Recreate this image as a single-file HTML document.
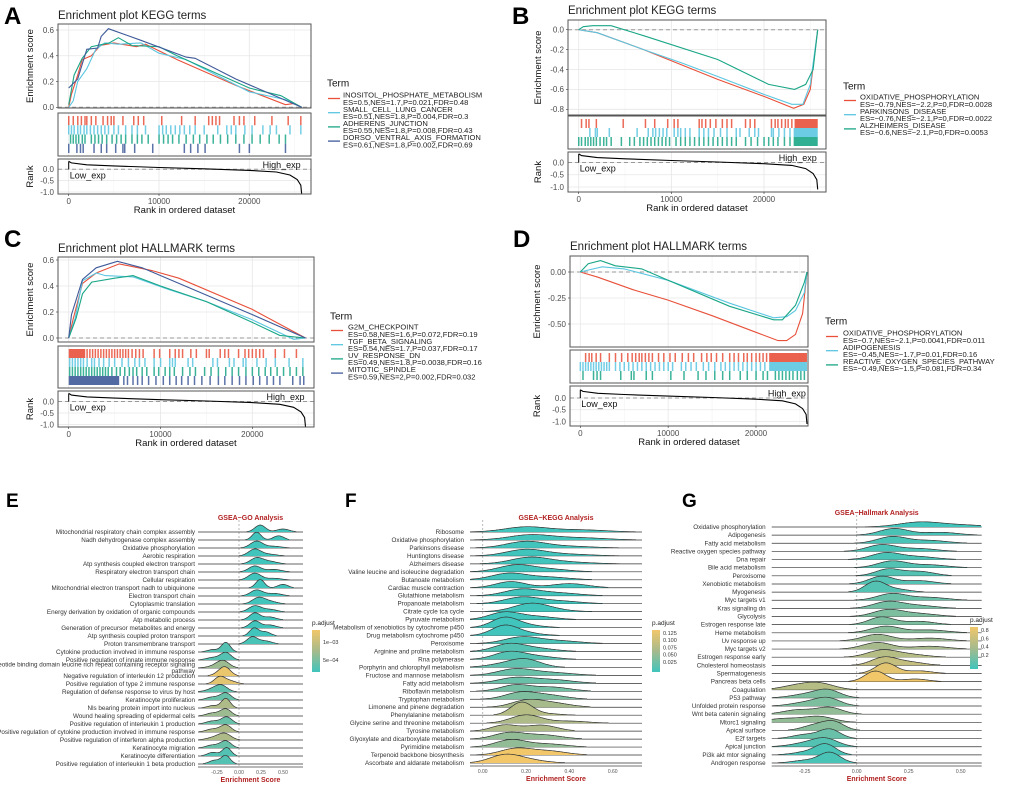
<!DOCTYPE html>
<html><head><meta charset="utf-8"><style>
html,body{margin:0;padding:0;background:#fff;}
svg{display:block;font-family:"Liberation Sans",Arial,sans-serif;}
</style></head><body>
<svg id="fig" width="1020" height="786" viewBox="0 0 1020 786" xmlns="http://www.w3.org/2000/svg"></svg>
<script>
// ===== GSEA data (rank, ES) =====
const A_names=["INOSITOL_PHOSPHATE_METABOLISM","SMALL_CELL_LUNG_CANCER","ADHERENS_JUNCTION","DORSO_VENTRAL_AXIS_FORMATION"];
const A_stats=["ES=0.5,NES=1.7,P=0.021,FDR=0.48","ES=0.51,NES=1.8,P=0.004,FDR=0.3","ES=0.55,NES=1.8,P=0.008,FDR=0.43","ES=0.61,NES=1.8,P=0.002,FDR=0.69"];
const A_s1=[[0,0],[300,0.1],[1000,0.25],[1500,0.37],[2500,0.4],[3500,0.48],[5000,0.5],[7500,0.47],[8500,0.49],[12000,0.37],[18500,0.17],[24000,0.02],[25000,0.03],[25800,0]];
const A_s2=[[0,0],[500,0.05],[1000,0.2],[2000,0.3],[3000,0.45],[4000,0.5],[5500,0.49],[8000,0.5],[10000,0.42],[13000,0.37],[20000,0.12],[24000,0.06],[25800,0]];
const A_s3=[[0,0.02],[600,0.25],[1500,0.38],[2500,0.47],[4500,0.5],[5500,0.54],[7000,0.48],[10000,0.47],[12000,0.4],[20000,0.15],[23500,0.09],[25800,0]];
const A_s4=[[0,0.15],[1000,0.22],[2000,0.45],[3200,0.46],[3600,0.55],[4400,0.61],[8000,0.52],[13000,0.39],[14000,0.38],[18500,0.22],[25800,0]];
const A_r1=[0,.5,1,1.4,1.8,2,2.5,3,3.8,4.3,4.7,5,6,7.2,7.7,8.3,10.3,12.5,14,15.5,15.9,16.3,16.7,18.3,18.9,19.4,20.6,22.5,24.3,25.7];
const A_r2=[0,.3,.6,1,1.3,1.7,2,2.4,2.8,3.2,3.6,4,4.4,5,5.5,6.3,7,7.6,8.5,10,10.4,10.8,11.3,11.8,12.3,12.8,13.4,14,15,16.5,17.5,18,18.5,19.5,20.3,21.5,22.3,23,24.5,25.7];
const A_r3=[.2,.5,.8,1.1,1.5,1.8,2.5,2.9,3.3,3.7,4.2,4.8,5.3,5.8,6.3,7,7.6,8.1,8.8,10,10.5,11,11.5,12.2,13,13.8,14.5,15.3,16,16.8,17.6,18.5,19.4,20.3,21.2,22.2,23.3,24];
const A_r4=[0,.9,1.3,1.6,2.8,3.6,4.2,5.2,6,6.2,7.3,9.3,12.8,13.5,14.3,15.1,18.9,20,24];

const B_names=["OXIDATIVE_PHOSPHORYLATION","PARKINSONS_DISEASE","ALZHEIMERS_DISEASE"];
const B_stats=["ES=\u22120.79,NES=\u22122.2,P=0,FDR=0.0028","ES=\u22120.76,NES=\u22122.1,P=0,FDR=0.0022","ES=\u22120.6,NES=\u22122.1,P=0,FDR=0.0053"];
const B_s1=[[0,0],[2000,-0.03],[7000,-0.2],[15000,-0.5],[20000,-0.67],[23200,-0.79],[24300,-0.75],[25000,-0.6],[25800,0]];
const B_s2=[[0,0],[2000,-0.03],[7000,-0.2],[11000,-0.33],[15000,-0.47],[20000,-0.65],[23000,-0.75],[24200,-0.75],[25000,-0.55],[25800,0]];
const B_s3=[[0,0],[500,0.03],[1500,0.04],[3500,0.04],[7000,-0.06],[15000,-0.3],[20500,-0.55],[23300,-0.6],[24500,-0.55],[25300,-0.4],[25800,0]];
const B_r1=[.3,.8,1.1,1.9,4.8,7.2,8.2,9.6,10.3,10.7,13,13.3,13.7,14.2,14.8,15.5,16,16.5,18,18.5,19,20.8,21.2,21.5,21.9,22.3,22.6,23];
const B_r2=[1.2,1.8,2,3.3,6.3,7.5,8,8.3,8.7,9.1,9.5,10.3,10.7,11,11.5,12,13,13.5,14,14.6,15.3,16,17,17.4,18.4,19,19.4,20.8,21,21.6,22.2,22.8];
const B_r3=[0,.3,.7,1,1.3,1.6,1.9,2.3,2.7,3,3.5,4.6,5.5,6,6.6,7,7.4,7.8,8.2,8.6,9,9.4,9.8,10.5,11,11.5,12,12.5,13,13.5,14,14.5,15,15.5,16,16.5,17,18,18.6,19.3,20,20.5,21,21.5,22.2,22.8];
const B_b=[[23.3,25.8],[23.2,25.8],[23.2,25.8]];

const C_names=["G2M_CHECKPOINT","TGF_BETA_SIGNALING","UV_RESPONSE_DN","MITOTIC_SPINDLE"];
const C_stats=["ES=0.58,NES=1.6,P=0.072,FDR=0.19","ES=0.54,NES=1.7,P=0.037,FDR=0.17","ES=0.49,NES=1.8,P=0.0038,FDR=0.16","ES=0.59,NES=2,P=0.002,FDR=0.032"];
const C_s1=[[0,0],[500,0.15],[1500,0.42],[3000,0.5],[5500,0.57],[9000,0.52],[12000,0.46],[20000,0.22],[25800,0]];
const C_s2=[[0,0],[700,0.15],[1500,0.44],[3000,0.5],[4000,0.48],[7000,0.47],[11000,0.37],[15000,0.28],[20000,0.14],[24500,-0.01],[25800,0]];
const C_s3=[[0,0],[800,0.15],[1500,0.34],[2500,0.43],[5000,0.46],[7000,0.48],[10000,0.4],[15000,0.28],[20000,0.12],[23000,0.02],[25800,0]];
const C_s4=[[0,0],[300,0.18],[1500,0.45],[3000,0.54],[5300,0.59],[8000,0.54],[12000,0.42],[20000,0.18],[25800,0]];
const C_r1=[2,2.3,2.6,2.9,3.2,3.5,3.8,4.1,4.4,4.7,5,5.3,5.6,5.9,6.2,6.5,6.9,7.3,7.7,8.1,9.3,9.9,11,11.6,12,12.4,13.3,13.9,15,15.3,16.5,17,17.4,18.5,19.2,19.6,20,20.4,20.8,21.2,22.5,23.5,24.8];
const C_r2=[.1,.4,.7,1,1.3,1.6,2,2.5,2.8,3.3,3.8,4.4,5,5.8,6.5,7.2,7.7,8.3,9.3,10,11,11.3,11.6,13,13.5,15.7,16.2,17.5,18,19,19.3,20.5,21.5,22.5,24,25.5];
const C_r3=[.1,.4,.7,1,1.3,1.6,1.9,2.2,2.5,2.8,3.1,3.4,3.7,4,4.3,4.7,5.2,5.6,6.1,6.6,7,7.4,8,8.5,9.3,9.8,10.5,11,11.5,12.4,13.2,13.8,14.8,15.5,16.3,17.1,17.8,18.5,19.3,20,20.7,21.4,22,22.7,23.4,24.1,24.8,25.5];
const C_r4=[6,6.4,7,7.5,8,8.7,9.5,10.3,11,11.7,12.3,13,13.7,14.5,15.4,16.3,17,17.8,18.6,19.3,20.1,20.8,21.6,22.3,23,24.4,25.2,25.6];
const C_b=[[0,1.8],null,null,[0,5.5]];

const D_names=["OXIDATIVE_PHOSPHORYLATION","ADIPOGENESIS","REACTIVE_OXYGEN_SPECIES_PATHWAY"];
const D_stats=["ES=\u22120.7,NES=\u22122.1,P=0.0041,FDR=0.011","ES=\u22120.45,NES=\u22121.7,P=0.01,FDR=0.16","ES=\u22120.49,NES=\u22121.5,P=0.081,FDR=0.34"];
const D_s1=[[0,0],[2000,-0.05],[6000,-0.17],[10000,-0.27],[15000,-0.42],[20000,-0.58],[22500,-0.66],[23500,-0.66],[24500,-0.6],[25300,-0.4],[25800,0]];
const D_s2=[[0,0],[1000,0.02],[2500,0.05],[5000,0.03],[10000,-0.08],[17000,-0.3],[22000,-0.44],[23500,-0.43],[24500,-0.37],[25500,-0.2],[25800,0]];
const D_s3=[[0,0],[900,0.08],[2300,0.11],[4000,0.06],[7000,0.03],[10000,-0.08],[17000,-0.33],[22000,-0.46],[23000,-0.46],[24500,-0.32],[25500,-0.1],[25800,0]];
const D_r1=[.6,1,1.3,1.8,2.3,3.3,4,4.7,5.4,5.9,6.3,6.7,7,7.4,7.8,8.2,8.9,9.5,10.2,10.8,11.6,12.3,12.9,13.8,14.4,14.9,15.5,16.2,17,17.5,18,18.6,19,19.5,20,20.4,20.8,21.2];
const D_r2=[0,.3,.6,.9,1.2,1.5,1.8,2.1,2.4,2.7,3,3.3,4,4.5,5,5.5,6,6.5,7,7.5,8,8.5,9,9.5,10,10.5,11.5,12,12.6,13.2,14,14.6,15.3,16,16.5,17,17.5,18,18.5,19,19.5,20,20.5,21];
const D_r3=[.3,1.5,1.9,2.3,4.6,5.8,6.1,7.5,8.2,10.3,11.8,13.4,14.3,15.3,16.2,17,18.2,19,20,20.8,21.3,22.2,22.6,23,23.4,23.8,24.2,24.7,25.1,25.5];
const D_b=[[21.5,25.8],[21.5,25.8],null];

const RANK_curve=[[0,0.35],[300,0.28],[2000,0.2],[5000,0.15],[10000,0.08],[15000,0.02],[20000,-0.05],[23000,-0.12],[24500,-0.25],[25300,-0.45],[25700,-0.7],[25800,-1.1]];
const X_ticks=[0,10000,20000];
const RANK_ticks=[0.0,-0.5,-1.0];

// ===== Ridge data =====
const E_names=["Mitochondrial respiratory chain complex assembly","Nadh dehydrogenase complex assembly","Oxidative phosphorylation","Aerobic respiration","Atp synthesis coupled electron transport","Respiratory electron transport chain","Cellular respiration","Mitochondrial electron transport nadh to ubiquinone","Electron transport chain","Cytoplasmic translation","Energy derivation by oxidation of organic compounds","Atp metabolic process","Generation of precursor metabolites and energy","Atp synthesis coupled proton transport","Proton transmembrane transport","Cytokine production involved in immune response","Positive regulation of innate immune response","Nucleotide binding domain leucine rich repeat containing receptor signaling|pathway","Negative regulation of interleukin 12 production","Positive regulation of type 2 immune response","Regulation of defense response to virus by host","Keratinocyte proliferation","Nls bearing protein import into nucleus","Wound healing spreading of epidermal cells","Positive regulation of interleukin 1 production","Positive regulation of cytokine production involved in immune response","Positive regulation of interferon alpha production","Keratinocyte migration","Keratinocyte differentiation","Positive regulation of interleukin 1 beta production"];
const E_center=[0.24,0.2,0.2,0.18,0.2,0.18,0.18,0.24,0.2,0.22,0.18,0.18,0.18,0.17,0.15,-0.15,-0.15,-0.18,-0.15,-0.22,-0.2,-0.15,-0.15,-0.15,-0.14,-0.15,-0.16,-0.15,-0.14,-0.15];
const E_sd=[0.06,0.05,0.07,0.07,0.07,0.07,0.07,0.05,0.07,0.07,0.07,0.06,0.06,0.05,0.06,0.05,0.06,0.07,0.06,0.06,0.07,0.06,0.05,0.06,0.06,0.06,0.07,0.06,0.05,0.05];
const E_c2=[0.5,0.45,0.4,0.35,0.35,0.4,0.4,0.5,0.4,0.35,0.35,0.35,0.35,0.3,0.3,-0.3,-0.3,-0.28,-0.2,-0.1,-0.3,-0.3,-0.3,-0.3,-0.3,-0.3,-0.28,-0.3,-0.3,-0.28];
const E_w2=[0.3,0.35,0.2,0.2,0.3,0.3,0.2,0.3,0.3,0.3,0.3,0.3,0.3,0.35,0.3,0.2,0.25,0.2,0.4,0.3,0.3,0.3,0.2,0.3,0.3,0.3,0.3,0.3,0.3,0.3];
const E_padj=[0,0,0,0,0,0,0,0,0,0,0,0,0,0,0.05,0.1,0.1,0.45,0.95,0.9,0.15,0.2,0.55,0.45,0.2,0.55,0.55,0.2,0.1,0.1];
const E_ticks=[-0.25,0,0.25,0.5];
const E_legend=["1e\u221203","5e\u221204"];

const F_names=["Ribosome","Oxidative phosphorylation","Parkinsons disease","Huntingtons disease","Alzheimers disease","Valine leucine and isoleucine degradation","Butanoate metabolism","Cardiac muscle contraction","Glutathione metabolism","Propanoate metabolism","Citrate cycle tca cycle","Pyruvate metabolism","Metabolism of xenobiotics by cytochrome p450","Drug metabolism cytochrome p450","Peroxisome","Arginine and proline metabolism","Rna polymerase","Porphyrin and chlorophyll metabolism","Fructose and mannose metabolism","Fatty acid metabolism","Riboflavin metabolism","Tryptophan metabolism","Limonene and pinene degradation","Phenylalanine metabolism","Glycine serine and threonine metabolism","Tyrosine metabolism","Glyoxylate and dicarboxylate metabolism","Pyrimidine metabolism","Terpenoid backbone biosynthesis","Ascorbate and aldarate metabolism"];
const F_center=[0.2,0.22,0.2,0.2,0.22,0.15,0.12,0.13,0.18,0.18,0.22,0.1,0.1,0.1,0.18,0.12,0.12,0.2,0.15,0.15,0.15,0.17,0.2,0.18,0.2,0.1,0.12,0.13,0.15,0.1];
const F_sd=[0.1,0.1,0.09,0.09,0.09,0.08,0.08,0.07,0.08,0.08,0.08,0.07,0.06,0.06,0.08,0.07,0.07,0.07,0.08,0.08,0.07,0.07,0.07,0.05,0.07,0.06,0.07,0.07,0.07,0.07];
const F_c2=[0.45,0.45,0.4,0.4,0.4,0.3,0.3,0.4,0.35,0.35,0.3,0.25,0.2,0.2,0.35,0.25,0.25,0.1,0.32,0.32,0.32,0.3,0.32,0.3,0.4,0.27,0.28,0.3,0.3,0.2];
const F_w2=[0.3,0.3,0.2,0.2,0.2,0.3,0.3,0.4,0.3,0.3,0.2,0.3,0.2,0.2,0.3,0.3,0.3,0.3,0.3,0.4,0.4,0.4,0.4,0.1,0.2,0.5,0.4,0.3,0.4,0.3];
const F_padj=[0,0,0,0,0,0,0,0,0,0,0,0,0,0,0.05,0.1,0.1,0.15,0.2,0.2,0.25,0.3,0.5,0.6,0.55,0.55,0.4,0.4,1,1];
const F_ticks=[0,0.2,0.4,0.6];
const F_legend=["0.125","0.100","0.075","0.050","0.025"];

const G_names=["Oxidative phosphorylation","Adipogenesis","Fatty acid metabolism","Reactive oxygen species pathway","Dna repair","Bile acid metabolism","Peroxisome","Xenobiotic metabolism","Myogenesis","Myc targets v1","Kras signaling dn","Glycolysis","Estrogen response late","Heme metabolism","Uv response up","Myc targets v2","Estrogen response early","Cholesterol homeostasis","Spermatogenesis","Pancreas beta cells","Coagulation","P53 pathway","Unfolded protein response","Wnt beta catenin signaling","Mtorc1 signaling","Apical surface","E2f targets","Apical junction","Pi3k akt mtor signaling","Androgen response"];
const G_center=[0.3,0.18,0.17,0.12,0.14,0.17,0.15,0.12,0.09,0.17,0.15,0.15,0.12,0.14,0.1,0.1,0.12,0.13,0.14,0.09,-0.17,-0.14,-0.14,-0.13,-0.18,-0.11,-0.13,-0.15,-0.15,-0.13];
const G_sd=[0.1,0.07,0.07,0.07,0.07,0.07,0.06,0.06,0.05,0.07,0.07,0.07,0.06,0.07,0.07,0.07,0.07,0.06,0.05,0.05,0.07,0.06,0.06,0.06,0.07,0.05,0.05,0.06,0.05,0.05];
const G_c2=[0.5,0.4,0.35,0.3,0.3,0.35,0.3,0.3,0.2,0.35,0.3,0.3,0.3,0.35,0.35,0.35,0.25,0.25,0.3,0.28,-0.27,-0.25,-0.25,-0.28,-0.35,-0.2,-0.25,-0.25,-0.25,-0.25];
const G_w2=[0.3,0.3,0.3,0.3,0.3,0.3,0.4,0.3,0.2,0.3,0.3,0.3,0.3,0.3,0.3,0.3,0.3,0.3,0.2,0.2,0.5,0.3,0.3,0.4,0.4,0.4,0.3,0.3,0.2,0.2];
const G_padj=[0,0.05,0.05,0.05,0.05,0.1,0.1,0.1,0.1,0.2,0.25,0.3,0.3,0.35,0.45,0.5,0.6,0.7,0.9,1,0.6,0.3,0.3,0.4,0.4,0.35,0.2,0.1,0.05,0.05];
const G_ticks=[-0.25,0,0.25,0.5];
const G_legend=["0.8","0.6","0.4","0.2"];

const RED="#e8503a",LBLUE="#5bc6e0",TEAL="#1aa687",NAVY="#3f5a9a";
const NS="http://www.w3.org/2000/svg";
const svg=document.getElementById('fig');
function el(tag,attrs,parent,text){const e=document.createElementNS(NS,tag);for(const k in attrs)e.setAttribute(k,attrs[k]);if(text!==undefined)e.textContent=text;(parent||svg).appendChild(e);return e;}
function fmtTick(v){return v.toFixed(1);}

function gsea(cfg,series,rugs,blocks,colors,names,stats){
  const g=el('g',{});
  
  
  const X=r=>cfg.xp[0]+(cfg.xp[1]-cfg.xp[0])*r/20000;
  const Y=v=>cfg.yp[0]+(cfg.yp[1]-cfg.yp[0])*(v-cfg.yv[0])/(cfg.yv[1]-cfg.yv[0]);
  const RY=v=>cfg.rp[0]+(cfg.rp[1]-cfg.rp[0])*(v-0)/(-1);
  const [bx0,bx1]=cfg.box;
  const t=el('text',{x:bx0,y:cfg.titleY,'font-size':11.5,fill:'#222'},g,cfg.title);
  
  const lab=el('text',{x:cfg.letter[0],y:cfg.letter[1],'font-size':24,'font-weight':'bold',fill:'#000'},g,cfg.letterT);
  
  const boxes=[cfg.top,cfg.rug,cfg.rank];
  boxes.forEach((b)=>{el('rect',{x:bx0,y:b[0],width:bx1-bx0,height:b[1]-b[0],fill:'#fff'},g);});
  const gridX=[0,5000,10000,15000,20000,25000];
  boxes.forEach((b)=>{gridX.forEach((r,i)=>{const x=X(r);if(x<bx1)el('line',{x1:x,x2:x,y1:b[0],y2:b[1],stroke:i%2==0?'#e6e6e6':'#f2f2f2','stroke-width':i%2==0?0.8:0.5},g);});});
  cfg.yticks.forEach(v=>{el('line',{x1:bx0,x2:bx1,y1:Y(v),y2:Y(v),stroke:'#e6e6e6','stroke-width':0.8},g);
    const tl=el('text',{x:bx0-4,y:Y(v)+2.8,'font-size':8,fill:'#4d4d4d','text-anchor':'end'},g,cfg.ylab(v));
    
    el('line',{x1:bx0-2,x2:bx0,y1:Y(v),y2:Y(v),stroke:'#333','stroke-width':0.6},g);});
  RANK_ticks.forEach(v=>{el('line',{x1:bx0,x2:bx1,y1:RY(v),y2:RY(v),stroke:'#e6e6e6','stroke-width':0.8},g);
    const tl=el('text',{x:bx0-4,y:RY(v)+2.8,'font-size':8,fill:'#4d4d4d','text-anchor':'end'},g,v.toFixed(1));
    });
  el('line',{x1:bx0,x2:bx1,y1:Y(0),y2:Y(0),stroke:'#999','stroke-width':1,'stroke-dasharray':'4,3'},g);
  series.forEach((s,i)=>{const p=el('polyline',{points:s.map(d=>X(d[0]).toFixed(1)+','+Y(d[1]).toFixed(1)).join(' '),fill:'none',stroke:colors[i],'stroke-width':1.1},g);
    });
  const n=rugs.length, rh=(cfg.rug[1]-cfg.rug[0]-6)/n;
  rugs.forEach((arr,i)=>{const y0=cfg.rug[0]+3+i*rh;
    arr.forEach(r=>{const m=el('rect',{x:X(r*1000)-0.7,y:y0,width:1.5,height:rh,fill:colors[i],opacity:0.85},g);
      });
    const b=blocks[i];if(b){const m=el('rect',{x:X(b[0]*1000),y:y0,width:X(b[1]*1000)-X(b[0]*1000),height:rh,fill:colors[i],opacity:0.9},g);
      }
  });
  el('line',{x1:bx0,x2:bx1,y1:RY(0),y2:RY(0),stroke:'#999','stroke-width':1,'stroke-dasharray':'4,3'},g);
  const rc=el('polyline',{points:RANK_curve.map(d=>X(d[0]).toFixed(1)+','+RY(d[1]).toFixed(1)).join(' '),fill:'none',stroke:'#000','stroke-width':1.1},g);
  
  el('line',{x1:X(0),x2:X(0),y1:RY(0),y2:RY(0.35),stroke:'#000','stroke-width':1},g);
  el('text',{x:X(0)+1,y:RY(0)+9,'font-size':9,fill:'#111'},g,'Low_exp');
  el('text',{x:X(25800)-1,y:RY(0)-1.5,'font-size':9,fill:'#111','text-anchor':'end'},g,'High_exp');
  boxes.forEach(b=>{el('rect',{x:bx0,y:b[0],width:bx1-bx0,height:b[1]-b[0],fill:'none',stroke:'#555','stroke-width':1},g);});
  X_ticks.forEach(r=>{el('line',{x1:X(r),x2:X(r),y1:cfg.rank[1],y2:cfg.rank[1]+2,stroke:'#333','stroke-width':0.6},g);
    const tl=el('text',{x:X(r),y:cfg.rank[1]+10,'font-size':8,fill:'#4d4d4d','text-anchor':'middle'},g,String(r));
    });
  const xt=el('text',{x:(bx0+bx1)/2,y:cfg.rank[1]+19,'font-size':9.5,fill:'#111','text-anchor':'middle'},g,'Rank in ordered dataset');
  
  const yc=(cfg.top[0]+cfg.top[1])/2;
  const yt=el('text',{x:0,y:0,'font-size':9.5,fill:'#111','text-anchor':'middle',transform:`translate(${cfg.yTitleX},${yc}) rotate(-90)`},g,'Enrichment score');
  
  const rcY=(cfg.rank[0]+cfg.rank[1])/2;
  const rt=el('text',{x:0,y:0,'font-size':9.5,fill:'#111','text-anchor':'middle',transform:`translate(${cfg.yTitleX},${rcY}) rotate(-90)`},g,'Rank');
  
  const lg=el('g',{},g);
  
  el('text',{x:cfg.leg[0],y:cfg.leg[1]+3.5,'font-size':10,fill:'#111'},lg,'Term');
  names.forEach((nm,i)=>{const yy=cfg.leg[2]+i*14.2;
    const e=el('g',{},lg);
    
    el('line',{x1:cfg.leg[0]+1,x2:cfg.leg[0]+13,y1:yy+3.5,y2:yy+3.5,stroke:colors[i],'stroke-width':1.3},e);
    el('text',{x:cfg.leg[3],y:yy+2.6,'font-size':7.6,fill:'#222'},e,nm);
    el('text',{x:cfg.leg[3],y:yy+9.8,'font-size':7.6,fill:'#222'},e,stats[i]);
  });
}

gsea({name:'panel-a',title:'Enrichment plot KEGG terms',titleY:19,letter:[4,24],letterT:'A',box:[58,311],top:[24,108],rug:[113,156],rank:[159,194],
  xp:[68.7,249.3],yv:[0,0.6],yp:[107.3,30],yticks:[0,0.2,0.4,0.6],ylab:fmtTick,rp:[169.3,192],yTitleX:33,leg:[327,83,95,343]},
  [A_s1,A_s2,A_s3,A_s4],[A_r1,A_r2,A_r3,A_r4],[null,null,null,null],[RED,LBLUE,TEAL,NAVY],A_names,A_stats);
gsea({name:'panel-b',title:'Enrichment plot KEGG terms',titleY:14,letter:[512,24],letterT:'B',box:[568,826],top:[20,115],rug:[116,149],rank:[152,192],
  xp:[578.7,764],yv:[0,-0.8],yp:[29.7,109.3],yticks:[0,-0.2,-0.4,-0.6,-0.8],ylab:fmtTick,rp:[162.5,187],yTitleX:541,leg:[843,86,97,860]},
  [B_s1,B_s2,B_s3],[B_r1,B_r2,B_r3],B_b,[RED,LBLUE,TEAL],B_names,B_stats);
gsea({name:'panel-c',title:'Enrichment plot HALLMARK terms',titleY:252,letter:[4,247],letterT:'C',box:[58,314],top:[257,342],rug:[346,388],rank:[391,427],
  xp:[68.7,252.3],yv:[0,0.6],yp:[338,260],yticks:[0,0.2,0.4,0.6],ylab:fmtTick,rp:[401.5,424.5],yTitleX:33,leg:[330,316,327,348]},
  [C_s1,C_s2,C_s3,C_s4],[C_r1,C_r2,C_r3,C_r4],C_b,[RED,LBLUE,TEAL,NAVY],C_names,C_stats);
gsea({name:'panel-d',title:'Enrichment plot HALLMARK terms',titleY:250,letter:[513,247],letterT:'D',box:[570,808],top:[256,347],rug:[350,383],rank:[386,426],
  xp:[580.3,756],yv:[0,-0.5],yp:[272,324],yticks:[0,-0.25,-0.5],ylab:v=>v.toFixed(2),rp:[398,421.5],yTitleX:540,leg:[825,321,333,843]},
  [D_s1,D_s2,D_s3],[D_r1,D_r2,D_r3],D_b,[RED,LBLUE,TEAL],D_names,D_stats);

function colAt(t){const a=[64,196,188],m=[166,186,140],b=[241,199,106];
  let c;if(t<0.5){const u=t/0.5;c=a.map((v,i)=>v+(m[i]-v)*u);}else{const u=(t-0.5)/0.5;c=m.map((v,i)=>v+(b[i]-v)*u);}
  return 'rgb('+c.map(Math.round).join(',')+')';}
function ridge(cfg,names,center,sd,c2,w2,padj,ticks,legend){
  const g=el('g',{});
  
  const X=v=>cfg.xp[0]+(cfg.xp[1]-cfg.xp[0])*(v-cfg.xv[0])/(cfg.xv[1]-cfg.xv[0]);
  const n=names.length, step=(cfg.y1-cfg.y0)/(n-1);
  const lab=el('text',{x:cfg.letter[0],y:cfg.letter[1],'font-size':19,'font-weight':'bold',fill:'#000'},g,cfg.letterT);
  
  const tt=el('text',{x:(cfg.px[0]+cfg.px[1])/2,y:cfg.y0-12,'font-size':7,'font-weight':'bold',fill:'#b22222','text-anchor':'middle'},g,cfg.title);
  
  el('line',{x1:X(0),x2:X(0),y1:cfg.y0-12,y2:cfg.y1+2,stroke:'#aaa','stroke-width':0.8,'stroke-dasharray':'2,2'},g);
  for(let i=0;i<n;i++){
    const yb=cfg.y0+i*step;
    const parts=names[i].split('|');
    const lt=el('text',{x:cfg.lx,y:yb+2-(parts.length-1)*3.5,'font-size':6.3,fill:'#333','text-anchor':'end'},g);
    
    parts.forEach((p,j)=>{el('tspan',{x:cfg.lx,dy:j?6.5:0},lt,p);});
    const lo=Math.max(cfg.px[0],X(Math.min(center[i],c2[i])-2.6*sd[i])), hi=Math.min(cfg.px[1],X(Math.max(center[i],c2[i])+2.6*sd[i]));
    const pts=[];
    for(let x=lo;x<=hi;x+=1){const v=cfg.xv[0]+(x-cfg.xp[0])/(cfg.xp[1]-cfg.xp[0])*(cfg.xv[1]-cfg.xv[0]);
      const d=(1-w2[i])*Math.exp(-0.5*((v-center[i])/sd[i])**2)+w2[i]*Math.exp(-0.5*((v-c2[i])/(sd[i]*1.2))**2);
      pts.push([x,yb-cfg.k*d*(0.06/sd[i])]);}
    el('line',{x1:cfg.px[0],x2:cfg.px[1],y1:yb,y2:yb,stroke:'#333','stroke-width':0.7},g);
    const fillPts=[[lo,yb],...pts,[hi,yb]];
    const a=el('polygon',{points:fillPts.map(p=>p[0].toFixed(1)+','+p[1].toFixed(1)).join(' '),fill:colAt(padj[i]),stroke:'none'},g);
    
    el('polyline',{points:pts.map(p=>p[0].toFixed(1)+','+p[1].toFixed(1)).join(' '),fill:'none',stroke:'#333','stroke-width':0.7},g);
  }
  el('line',{x1:cfg.px[0],x2:cfg.px[1],y1:cfg.y1+3,y2:cfg.y1+3,stroke:'#444','stroke-width':0.8},g);
  ticks.forEach(v=>{const tl=el('text',{x:X(v),y:cfg.y1+10,'font-size':5,fill:'#555','text-anchor':'middle'},g,v.toFixed(2));
    });
  const xt=el('text',{x:(cfg.px[0]+cfg.px[1])/2,y:cfg.y1+18,'font-size':7,'font-weight':'bold',fill:'#b22222','text-anchor':'middle'},g,'Enrichment Score');
  
  const lg=el('g',{},g);
  
  el('text',{x:cfg.leg[0],y:cfg.leg[1],'font-size':6.5,fill:'#222'},lg,'p.adjust');
  const gid='gr'+cfg.name;
  const defs=el('defs',{},lg);const lgr=el('linearGradient',{id:gid,x1:0,y1:0,x2:0,y2:1},defs);
  el('stop',{offset:'0%','stop-color':colAt(1)},lgr);el('stop',{offset:'50%','stop-color':colAt(0.5)},lgr);el('stop',{offset:'100%','stop-color':colAt(0)},lgr);
  el('rect',{x:cfg.leg[0],y:cfg.leg[1]+5,width:8,height:42,fill:`url(#${gid})`},lg);
  legend.forEach((s,i)=>{const yy=cfg.leg[1]+5+cfg.legY[0]+i*cfg.legY[1];
    el('text',{x:cfg.leg[0]+11,y:yy+2,'font-size':5.5,fill:'#333'},lg,s);});
}
ridge({name:'panel-e',title:'GSEA\u2212GO Analysis',letter:[6,507],letterT:'E',xv:[0,0.5],xp:[239,283],px:[198,303],y0:532,y1:764,lx:195,k:10,leg:[312,625],legY:[12,18]},
  E_names,E_center,E_sd,E_c2,E_w2,E_padj,E_ticks,E_legend);
ridge({name:'panel-f',title:'GSEA\u2212KEGG Analysis',letter:[345,507],letterT:'F',xv:[0,0.6],xp:[482.7,612.7],px:[470,642],y0:532,y1:763,lx:464,k:12,leg:[652,625],legY:[3,7.2]},
  F_names,F_center,F_sd,F_c2,F_w2,F_padj,F_ticks,F_legend);
ridge({name:'panel-g',title:'GSEA\u2212Hallmark Analysis',letter:[682,507],letterT:'G',xv:[0,0.5],xp:[856.7,960.7],px:[771.7,981.7],y0:527,y1:763,lx:765.7,k:11,leg:[970,622],legY:[3,8.3]},
  G_names,G_center,G_sd,G_c2,G_w2,G_padj,G_ticks,G_legend);
</script>
</body></html>
